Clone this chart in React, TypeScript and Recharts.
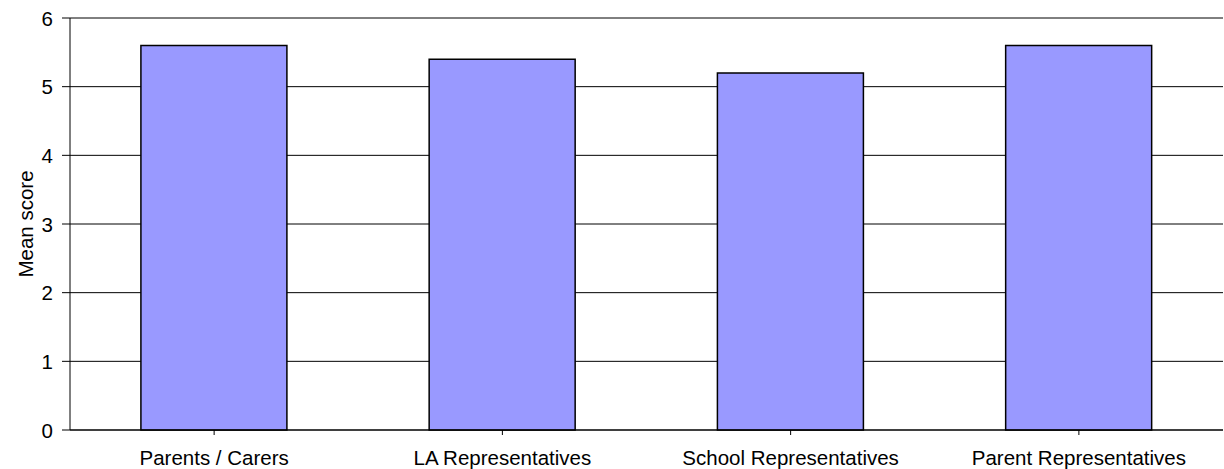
import { Bar, BarChart, CartesianGrid, XAxis, YAxis } from "recharts";

// Mean score per respondent group, one plain bar each on a 0–6 scale.

const groups = [
  "Parents / Carers",
  "LA Representatives",
  "School Representatives",
  "Parent Representatives",
];
const meanScores = [5.6, 5.4, 5.2, 5.6];
const yTicks = [0, 1, 2, 3, 4, 5, 6];

const rows = groups.map((group, i) => ({ group, score: meanScores[i] }));

const FONT = "'Liberation Sans', Arial, sans-serif";
const FONT_SIZE = 20.5;

function YTick({ x, y, payload }: any) {
  return (
    <text
      x={x}
      y={y}
      textAnchor="end"
      dominantBaseline="central"
      fontFamily={FONT}
      fontSize={FONT_SIZE}
      fill="#000"
    >
      {payload.value}
    </text>
  );
}

function XTick({ x, y, payload }: any) {
  return (
    <text
      x={x}
      y={y}
      textAnchor="middle"
      dy={28}
      fontFamily={FONT}
      fontSize={FONT_SIZE}
      fill="#000"
    >
      {payload.value}
    </text>
  );
}

function YLabel({ viewBox }: any) {
  const cy = viewBox.y + viewBox.height / 2;
  return (
    <text
      transform={`translate(33,${cy}) rotate(-90)`}
      textAnchor="middle"
      fontFamily={FONT}
      fontSize={FONT_SIZE}
      fill="#000"
    >
      Mean score
    </text>
  );
}

export default function App() {
  return (
    <div style={{ position: "absolute", left: 0, top: 0, background: "#fff" }}>
      <BarChart
        width={1224}
        height={469}
        data={rows}
        margin={{ top: 18, right: 1, bottom: 0, left: 0 }}
        barCategoryGap="24.6%"
      >
        <CartesianGrid vertical={false} stroke="#000" strokeWidth={1} />
        <XAxis
          dataKey="group"
          height={39}
          stroke="#000"
          tickSize={5}
          tickMargin={2}
          tick={<XTick />}
          interval={0}
          ticks={groups}
        />
        <YAxis
          width={70}
          domain={[0, 6]}
          ticks={yTicks}
          interval={0}
          stroke="#000"
          tickSize={8}
          tickMargin={9}
          tick={<YTick />}
          label={<YLabel />}
        />
        <Bar
          dataKey="score"
          fill="#9999FF"
          stroke="#000"
          strokeWidth={1.5}
          isAnimationActive={false}
        />
      </BarChart>
    </div>
  );
}
